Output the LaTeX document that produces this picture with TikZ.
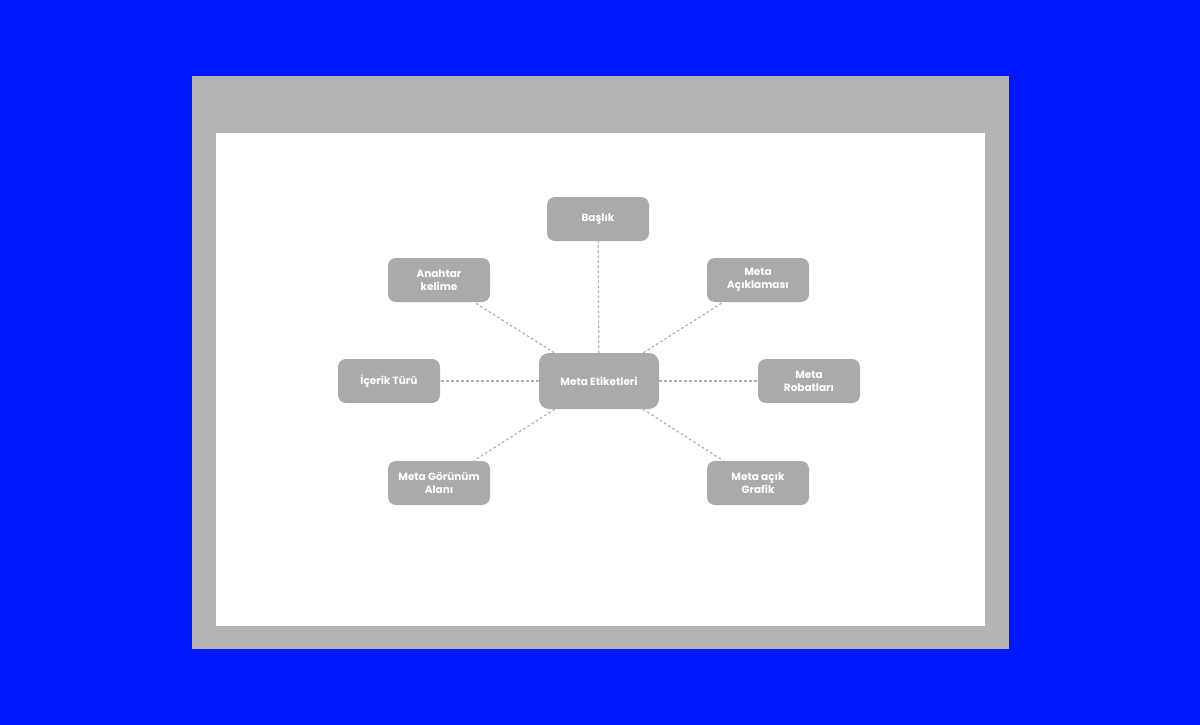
\documentclass[tikz,border=0pt]{standalone}
\usepackage{fontspec}
\setmainfont{Poppins}
\definecolor{bgblue}{RGB}{0,24,255}
\definecolor{framegray}{RGB}{180,180,180}
\definecolor{boxgray}{RGB}{170,170,170}
\definecolor{linegray}{RGB}{175,175,175}
\tikzset{
  tagbox/.style={draw=none, fill=boxgray, rounded corners=8pt, minimum width=102pt, minimum height=44pt, text=white, align=center, font=\fontsize{10.5}{13}\selectfont\bfseries, inner sep=2pt},
  link/.style={draw=linegray, line width=1.2pt, dash pattern={on 2.5pt off 2.5pt}}
}
\begin{document}
\begin{tikzpicture}[x=1pt,y=1pt,yscale=-1]
\useasboundingbox (0,0) rectangle (1200,725);
%background
\fill[bgblue] (0,0) rectangle (1200,725);
\fill[framegray] (192,76) rectangle (1009,649);
\fill[white] (216,133) rectangle (985,626);

% Nodes
\node[tagbox, minimum width=120pt, minimum height=56pt, rounded corners=10pt] (meta) at (599,381) {Meta Etiketleri};
\node[tagbox] (baslik) at (598,219) {Başlık};
\node[tagbox] (anahtar) at (439,280) {Anahtar\\kelime};
\node[tagbox] (aciklama) at (758,280) {Meta\\Açıklaması};
\node[tagbox] (icerik) at (389,381) {İçerik Türü};
\node[tagbox] (robot) at (809,381) {Meta\\Robatları};
\node[tagbox] (gorunum) at (439,483) {Meta Görünüm\\Alanı};
\node[tagbox] (grafik) at (758,483) {Meta açık\\Grafik};

% Connectors
\foreach \n in {baslik,anahtar,aciklama,icerik,robot,gorunum,grafik}
  \draw[link] (meta) -- (\n);

\end{tikzpicture}
\end{document}
